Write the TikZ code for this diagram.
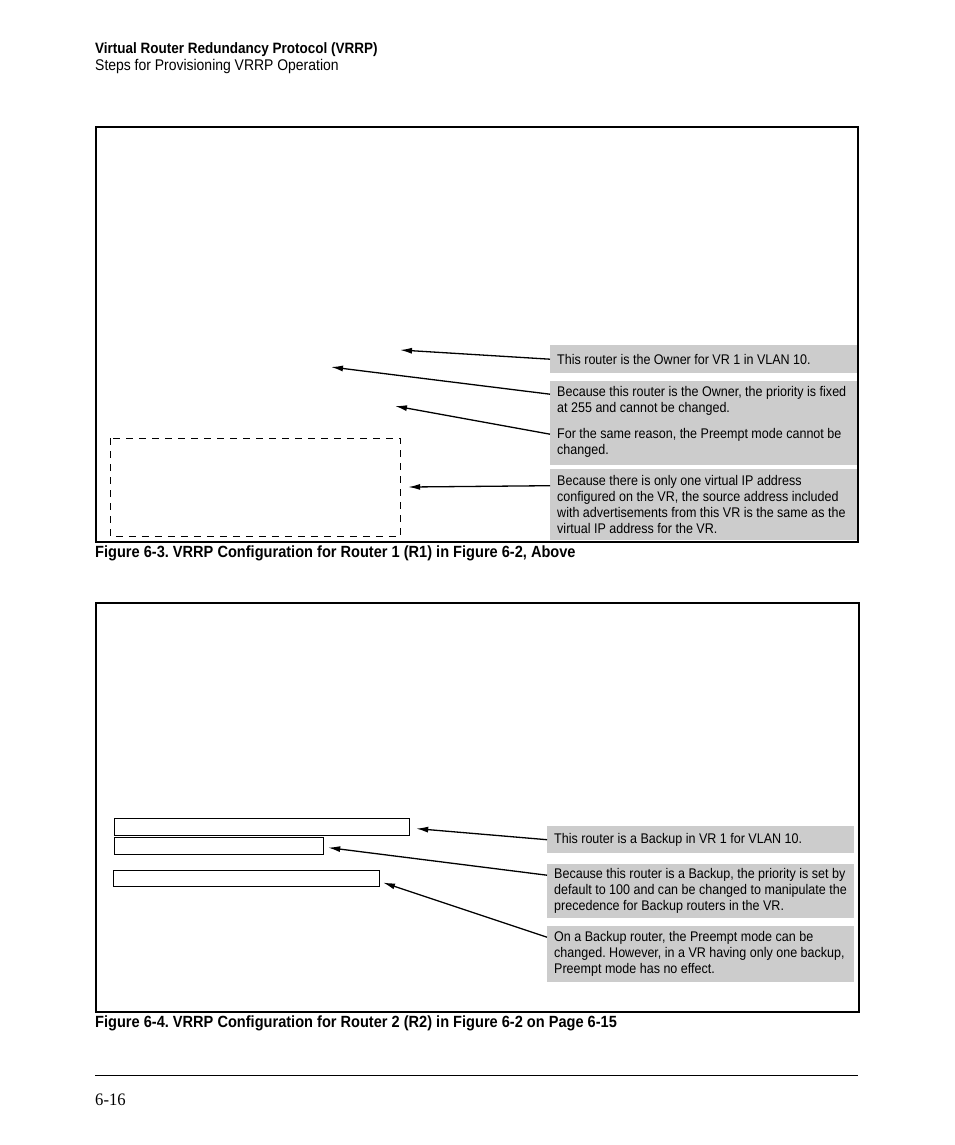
\documentclass[tikz,border=0pt]{standalone}
\usepackage{fontspec}
\setmainfont{Liberation Sans}[FakeStretch=0.895]
\newfontfamily\headfont{Liberation Sans}[FakeStretch=0.9]
\newfontfamily\pagefont{Liberation Serif}[FakeStretch=0.95]
\usetikzlibrary{arrows.meta,positioning}
\definecolor{calloutgray}{HTML}{CCCCCC}
\frenchspacing

\begin{document}
\begin{tikzpicture}[
    x=1pt, y=-1pt,
    frame/.style={draw=black, line width=2pt},
    note/.style={fill=calloutgray, anchor=north west, inner xsep=7pt, inner ysep=0pt,
      text width=293pt, align=flush left, font=\fontsize{14}{16}\selectfont},
    hdr/.style={anchor=base west, inner sep=0pt, font=\headfont\fontsize{15.5}{17}\selectfont},
    figcap/.style={anchor=base west, inner sep=0pt, font=\headfont\bfseries\fontsize{16.2}{18}\selectfont},
    pointer/.style={draw=black, line width=1.3pt, -{Latex[length=12pt,width=6pt]}},
    field/.style={draw=black, line width=1.2pt, anchor=north west, inner sep=0pt},
  ]
  \useasboundingbox (0,0) rectangle (954,1145);

  % ---- page header
  \node[hdr, font=\headfont\bfseries\fontsize{15}{17}\selectfont] (title) at (95,54)
    {Virtual Router Redundancy Protocol (VRRP)};
  \node[hdr] (subtitle) at (95,71) {Steps for Provisioning VRRP Operation};

  % ---- figure 6-3: router 1
  \draw[frame] (96,127) rectangle (858,542);
  \node[field, draw=none, minimum width=289pt, minimum height=97pt] (srcaddr) at (110,438) {};
  \draw[line width=1pt, dash pattern=on 7pt off 6pt] (srcaddr.north west) rectangle (srcaddr.south east);
  \coordinate (owner) at (400,350);
  \coordinate (prio) at (331,367);
  \coordinate (preempt) at (395,406);

  \node[note, minimum height=28pt] (ownernote) at (550,345)
    {This router is the Owner for VR 1 in VLAN 10.};
  \node[note, minimum height=40pt] (prionote) at (550,381)
    {Because this router is the Owner, the priority is fixed\\ at 255 and cannot be changed.};
  \node[note, minimum height=44pt] (preemptnote) at (550,421)
    {For the same reason, the Preempt mode cannot be\\ changed.};
  \node[note, minimum height=71pt] (srcnote) at (550,469)
    {Because there is only one virtual IP address\\ configured on the VR, the source address included\\ with advertisements from this VR is the same as the\\ virtual IP address for the VR.};

  \draw[pointer] (ownernote.west) -- (owner);
  \draw[pointer] ([yshift=7pt]prionote.west) -- (prio);
  \draw[pointer] ([yshift=9pt]preemptnote.west) -- (preempt);
  \draw[pointer, shorten >=8pt] ([yshift=19pt]srcnote.west) -- (srcaddr.east);

  \node[figcap] (cap1) at (95,557)
    {Figure 6-3. VRRP Configuration for Router 1 (R1) in Figure 6-2, Above};

  % ---- figure 6-4: router 2
  \draw[frame] (96,603) rectangle (859,1012);
  \node[field, minimum width=295pt, minimum height=17pt] (backup) at (114,818) {};
  \node[field, minimum width=209pt, minimum height=17pt] (bprio) at (114,837) {};
  \node[field, minimum width=266pt, minimum height=16pt] (bpreempt) at (113,870) {};

  \node[note, minimum height=27pt] (backupnote) at (547,826)
    {This router is a Backup in VR 1 for VLAN 10.};
  \node[note, minimum height=54pt] (bprionote) at (547,864)
    {Because this router is a Backup, the priority is set by\\ default to 100 and can be changed to manipulate the\\ precedence for Backup routers in the VR.};
  \node[note, minimum height=56pt] (bpreemptnote) at (547,926)
    {On a Backup router, the Preempt mode can be\\ changed. However, in a VR having only one backup,\\ Preempt mode has no effect.};

  \draw[pointer, shorten >=6pt] (backupnote.west) -- ([yshift=-1pt]backup.east);
  \draw[pointer, shorten >=4pt] ([yshift=16pt]bprionote.west) -- ([yshift=-1pt]bprio.east);
  \draw[pointer, shorten >=3pt] ([yshift=17pt]bpreemptnote.west) -- ([yshift=-3pt]bpreempt.east);

  \node[figcap] (cap2) at (95,1027)
    {Figure 6-4. VRRP Configuration for Router 2 (R2) in Figure 6-2 on Page 6-15};

  % ---- page footer
  \draw[line width=1pt] (95,1075) -- (858,1075);
  \node[anchor=base west, inner sep=0pt, font=\pagefont\fontsize{17.5}{19}\selectfont] (pageno) at (95,1105) {6-16};
\end{tikzpicture}
\end{document}
